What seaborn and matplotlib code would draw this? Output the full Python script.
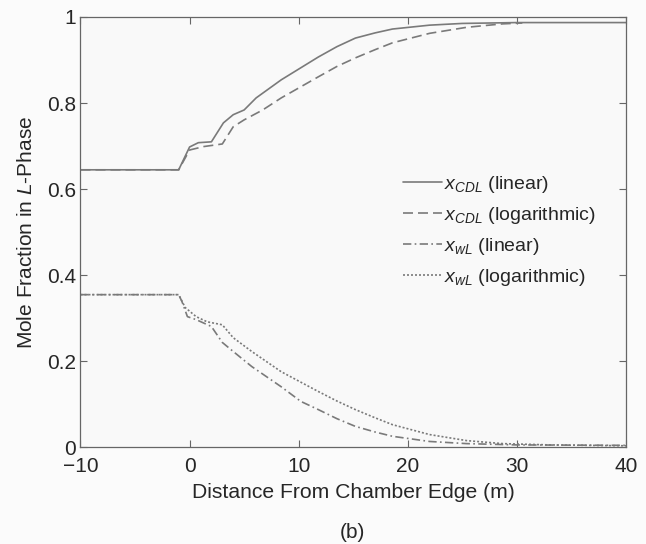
import matplotlib
matplotlib.use("Agg")
import matplotlib.pyplot as plt
import numpy as np
import pandas as pd
import seaborn as sns

# values
x_cdl_lin = [-10, -1, 0, 0.8, 2, 3.1, 4, 5, 6.1, 8.4, 11.8, 13.5, 15.2, 17, 18.6, 22, 25, 30, 40]
y_cdl_lin = [0.645, 0.645, 0.698, 0.708, 0.71, 0.754, 0.773, 0.784, 0.812, 0.854,
             0.907, 0.931, 0.951, 0.963, 0.972, 0.981, 0.985, 0.987, 0.987]

x_cdl_log = [-10, -1, 0, 1.3, 3, 4, 5, 6.7, 8.4, 11.8, 13.5, 15.2, 17, 18.6, 22, 25.4, 28.7, 30.5]
y_cdl_log = [0.645, 0.645, 0.691, 0.699, 0.705, 0.745, 0.761, 0.784, 0.812, 0.861,
             0.885, 0.905, 0.924, 0.94, 0.962, 0.976, 0.984, 0.986]

x_wl_lin = [-10, -1, -0.7, -0.2, 0.6, 2, 3, 4, 5.7, 8.4, 10.2, 11.8, 13.5, 15.2, 17, 18.6, 22, 25.4, 30, 40]
y_wl_lin = [0.355, 0.355, 0.339, 0.304, 0.297, 0.281, 0.244, 0.223, 0.188, 0.141,
            0.107, 0.088, 0.067, 0.049, 0.036, 0.026, 0.014, 0.009, 0.006, 0.005]

x_wl_log = [-10, -1, -0.4, 0.6, 1.6, 3, 4, 5.7, 8.4, 11.8, 13.5, 15.2, 17, 18.6, 22, 25.4, 28.7, 33, 40]
y_wl_log = [0.355, 0.355, 0.325, 0.304, 0.292, 0.285, 0.255, 0.223, 0.176, 0.13,
            0.108, 0.088, 0.069, 0.053, 0.03, 0.016, 0.009, 0.006, 0.004]

labels = [r"$x_{CDL}$ (linear)", r"$x_{CDL}$ (logarithmic)",
          r"$x_{wL}$ (linear)", r"$x_{wL}$ (logarithmic)"]

sns.set_style("ticks")
plt.rcParams['font.family'] = ['Liberation Sans', 'DejaVu Sans']
plt.rcParams['mathtext.fontset'] = 'custom'
plt.rcParams['mathtext.it'] = 'Liberation Sans:italic'
plt.rcParams['mathtext.rm'] = 'Liberation Sans'
plt.rcParams['axes.unicode_minus'] = True

frames = []
for lab, xs, ys in zip(labels, [x_cdl_lin, x_cdl_log, x_wl_lin, x_wl_log],
                       [y_cdl_lin, y_cdl_log, y_wl_lin, y_wl_log]):
    frames.append(pd.DataFrame({'x': xs, 'y': ys, 'series': lab}))
df = pd.concat(frames, ignore_index=True)

fig = plt.figure(figsize=(6.46, 5.44), dpi=100)
fig.patch.set_facecolor('#fbfbfb')
ax = fig.add_axes([0.1246, 0.1774, 0.8444, 0.7914])
ax.set_facecolor('#f9f9f9')

styles = {labels[0]: '-', labels[1]: (0, (6, 3)),
          labels[2]: (0, (5, 2, 1, 2)), labels[3]: (0, (1.2, 1.2))}
grey = '#7a7a7a'
for lab in labels:
    sub = df[df['series'] == lab]
    sns.lineplot(data=sub, x='x', y='y', ax=ax, color=grey, lw=1.2,
                 linestyle=styles[lab], label=lab, estimator=None, sort=False)

ax.set_xlim(-10, 40)
ax.set_ylim(0, 1)
ax.set_xticks([-10, 0, 10, 20, 30, 40])
ax.set_yticks([0, 0.2, 0.4, 0.6, 0.8, 1])
ax.set_yticklabels(['0', '0.2', '0.4', '0.6', '0.8', '1'])
ax.tick_params(direction='in', top=True, right=True, length=5, labelsize=15,
               color='#666666')
ax.tick_params(axis='y', pad=3)
ax.tick_params(axis='x', pad=7)
for s in ax.spines.values():
    s.set_color('#666666')
    s.set_linewidth(0.9)

ax.set_xlabel('Distance From Chamber Edge (m)', fontsize=15.2, labelpad=5)
ax.set_ylabel(r'Mole Fraction in $\mathit{L}$-Phase', fontsize=15, labelpad=8)

ax.legend(loc='upper left', bbox_to_anchor=(0.591, 0.636), frameon=False,
          fontsize=14, handlelength=2.0, handletextpad=0.1, labelspacing=0.52,
          borderpad=0, borderaxespad=0)

fig.text(0.546, 0.003, '(b)', ha='center', va='bottom', fontsize=15)

fig.savefig('out.png', dpi=100, facecolor=fig.get_facecolor())
